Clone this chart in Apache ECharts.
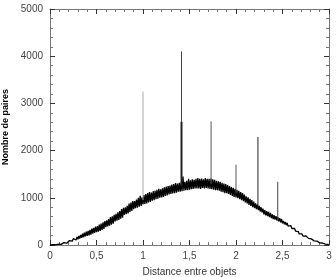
<!DOCTYPE html>
<html>
<head>
<meta charset="utf-8">
<script src="https://cdn.jsdelivr.net/npm/echarts@6/dist/echarts.min.js"></script>
<style>
  html, body { margin: 0; padding: 0; background: #fff; }
  #chart { width: 336px; height: 277px; }
</style>
</head>
<body>
<div id="chart"></div>
<script>
// distance step 0.01 from 0 to 3
const xStep = 0.01;
const pairCounts = [
  0, 3, 0, 6, 2, 10, 5, 16, 8, 20,
  12, 30, 14, 40, 22, 50, 30, 62, 38, 72,
  55, 95, 62, 115, 80, 135, 95, 150, 105, 170,
  120, 190, 135, 215, 150, 240, 165, 260, 180, 285,
  195, 300, 205, 320, 220, 345, 240, 365, 255, 390,
  270, 400, 285, 430, 300, 455, 320, 480, 340, 505,
  380, 520, 395, 550, 410, 590, 430, 610, 450, 640,
  500, 660, 515, 690, 530, 720, 560, 760, 580, 790,
  640, 800, 655, 830, 670, 880, 700, 900, 720, 930,
  760, 930, 780, 960, 790, 1000, 810, 1040, 830, 1010,
  860, 1060, 870, 1080, 880, 1100, 900, 1120, 910, 1110,
  940, 1140, 950, 1150, 970, 1170, 980, 1190, 1000, 1180,
  1010, 1200, 1020, 1220, 1040, 1240, 1050, 1250, 1070, 1260,
  1080, 1280, 1090, 1290, 1100, 1310, 1110, 1300, 1130, 1320,
  1130, 1330, 1140, 1450, 1150, 1340, 1160, 1360, 1160, 1400,
  1170, 1370, 1180, 1390, 1190, 1380, 1200, 1400, 1200, 1420,
  1200, 1400, 1190, 1410, 1210, 1390, 1200, 1420, 1210, 1400,
  1200, 1400, 1190, 1410, 1180, 1390, 1170, 1380, 1160, 1360,
  1160, 1350, 1150, 1340, 1130, 1320, 1120, 1300, 1100, 1290,
  1100, 1270, 1080, 1250, 1060, 1230, 1040, 1210, 1020, 1190,
  1010, 1170, 990, 1150, 970, 1120, 950, 1100, 930, 1070,
  900, 1030, 880, 1010, 850, 980, 830, 950, 800, 920,
  780, 880, 760, 860, 740, 830, 710, 800, 690, 770,
  650, 740, 630, 720, 610, 700, 590, 680, 570, 650,
  550, 630, 540, 610, 520, 590, 500, 570, 480, 550,
  460, 510, 440, 490, 420, 470, 400, 440, 380, 410,
  350, 380, 325, 350, 295, 320, 265, 285, 235, 255,
  205, 235, 190, 215, 170, 195, 155, 175, 140, 155,
  115, 130, 100, 112, 88, 98, 74, 84, 62, 70,
  46, 54, 36, 42, 26, 32, 18, 22, 10, 12,
  0
];

// peaks at lattice distances
const spikeX = [1, 1.414, 1.732, 2, 2.236, 2.449];
const spikeBase = [950, 1250, 1290, 1090, 780, 520];
const spikeTop = [3250, 4100, 2620, 1700, 2290, 1340];
const spikeColors = ['#aaa', '#444', '#555', '#555', '#222', '#444'];
// the sqrt(2) peak has a heavier lower part
const heavyX = [1.414];
const heavyBase = [1250];
const heavyTop = [2610];

const xTicks = { min: 0, max: 3, interval: 0.5 };
const yTicks = { min: 0, max: 5000, interval: 1000 };

const curve = pairCounts.map((v, i) => [+(i * xStep).toFixed(2), v]);

const chart = echarts.init(document.getElementById('chart'));

const axisGray = '#777';
const labelStyle = { color: '#444', fontSize: 10, fontFamily: 'Liberation Sans' };
const fmtX = v => String(v).replace('.', ',');
const fmtY = v => String(v);

function frameAxis(extra) {
  return Object.assign({
    type: 'value',
    axisLine: { show: true, onZero: false, lineStyle: { color: axisGray } },
    axisTick: { show: true, inside: true, length: 5, lineStyle: { color: '#333' } },
    minorTick: { show: true, splitNumber: 5, length: 3, lineStyle: { color: axisGray } },
    splitLine: { show: false }
  }, extra);
}

const spikeSeries = spikeX.map((x, i) => ({
  type: 'line',
  data: [[x, spikeBase[i]], [x, spikeTop[i]]],
  showSymbol: false,
  lineStyle: { color: spikeColors[i], width: 1 },
  silent: true,
  z: 3
}));

const heavySeries = heavyX.map((x, i) => ({
  type: 'line',
  data: [[x, heavyBase[i]], [x, heavyTop[i]]],
  showSymbol: false,
  lineStyle: { color: '#222', width: 2 },
  silent: true,
  z: 4
}));

chart.setOption({
  animation: false,
  grid: { left: 50, right: 7, top: 9, bottom: 32, containLabel: false, outerBoundsMode: 'none' },
  xAxis: [
    frameAxis({
      ...xTicks, position: 'bottom',
      name: 'Distance entre objets', nameLocation: 'middle', nameGap: 22,
      nameTextStyle: { color: '#333', fontSize: 10, fontFamily: 'Liberation Sans' },
      axisLabel: { ...labelStyle, margin: 6, formatter: fmtX }
    }),
    frameAxis({ ...xTicks, position: 'top', axisLabel: { show: false } })
  ],
  yAxis: [
    frameAxis({
      ...yTicks, position: 'left',
      name: 'Nombre de paires', nameLocation: 'middle', nameGap: 36,
      nameTextStyle: { color: '#000', fontSize: 9, fontWeight: 'bold', fontFamily: 'Liberation Sans' },
      axisLabel: { ...labelStyle, margin: 7, formatter: fmtY }
    }),
    frameAxis({ ...yTicks, position: 'right', axisLabel: { show: false } })
  ],
  series: [
    {
      type: 'line',
      data: curve,
      showSymbol: false,
      sampling: null,
      lineStyle: { color: '#000', width: 1.3 },
      silent: true,
      z: 2
    },
    ...spikeSeries,
    ...heavySeries
  ]
});
</script>
</body>
</html>
